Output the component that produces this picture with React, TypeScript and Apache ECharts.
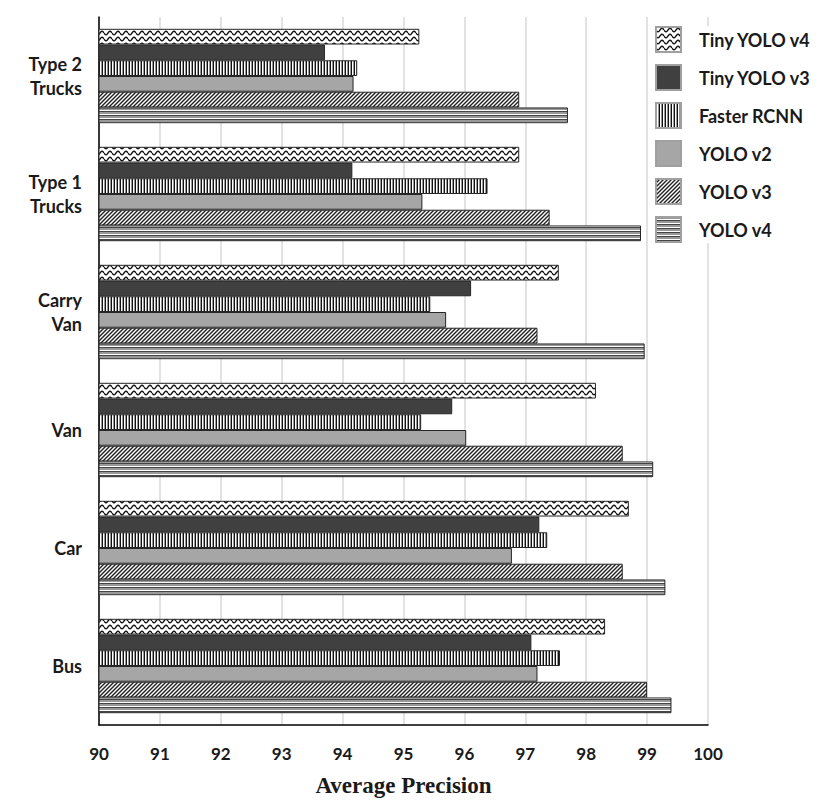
import React, { useEffect, useRef } from "react";
import * as echarts from "echarts";

const categories = ["Bus", "Car", "Van", "Carry\nVan", "Type 1\nTrucks", "Type 2\nTrucks"];
const seriesNames = ["Tiny YOLO v4", "Tiny YOLO v3", "Faster RCNN", "YOLO v2", "YOLO v3", "YOLO v4"];
const tinyYoloV4 = [98.31, 98.7, 98.16, 97.55, 96.9, 95.26];
const tinyYoloV3 = [97.1, 97.23, 95.8, 96.11, 94.16, 93.71];
const fasterRcnn = [97.57, 97.36, 95.29, 95.44, 96.38, 94.24];
const yoloV2 = [97.2, 96.78, 96.03, 95.7, 95.31, 94.18];
const yoloV3 = [99.0, 98.6, 98.6, 97.2, 97.4, 96.9];
const yoloV4 = [99.4, 99.3, 99.1, 98.96, 98.9, 97.7];
const xTicks = [90, 91, 92, 93, 94, 95, 96, 97, 98, 99, 100];

function makePattern(w: number, h: number, draw: (ctx: CanvasRenderingContext2D) => void) {
  const c = document.createElement("canvas");
  c.width = w;
  c.height = h;
  const ctx = c.getContext("2d") as CanvasRenderingContext2D;
  draw(ctx);
  return { image: c.toDataURL(), repeat: "repeat", imageWidth: w, imageHeight: h };
}

function buildFills() {
  const wave = makePattern(8, 6, (ctx) => {
    ctx.fillStyle = "#fff";
    ctx.fillRect(0, 0, 8, 6);
    ctx.strokeStyle = "#111";
    ctx.lineWidth = 1.4;
    ctx.beginPath();
    for (let i = 0; i <= 16; i++) {
      const x = i * 0.5;
      const y = 3 + 1.8 * Math.sin((2 * Math.PI * x) / 8);
      if (i === 0) ctx.moveTo(x, y);
      else ctx.lineTo(x, y);
    }
    ctx.stroke();
  });
  const vertical = makePattern(3, 1, (ctx) => {
    ctx.fillStyle = "#fff";
    ctx.fillRect(0, 0, 3, 1);
    ctx.fillStyle = "#111";
    ctx.fillRect(0, 0, 1, 1);
    ctx.fillStyle = "#999";
    ctx.fillRect(2, 0, 1, 1);
  });
  const diagonal = makePattern(4, 4, (ctx) => {
    ctx.fillStyle = "#fff";
    ctx.fillRect(0, 0, 4, 4);
    ctx.strokeStyle = "#222";
    ctx.lineWidth = 1.4;
    for (const off of [-4, 0, 4]) {
      ctx.beginPath();
      ctx.moveTo(off - 1, 5);
      ctx.lineTo(off + 5, -1);
      ctx.stroke();
    }
  });
  const horizontal = makePattern(1, 4, (ctx) => {
    const rows = ["#999", "#999", "#fff", "#444"];
    rows.forEach((col, i) => {
      ctx.fillStyle = col;
      ctx.fillRect(0, i, 1, 1);
    });
  });
  return [wave, "#404040", vertical, "#a6a6a6", diagonal, horizontal];
}

export default function App() {
  const ref = useRef<HTMLDivElement>(null);
  useEffect(() => {
    document.body.style.margin = "0";
    if (!ref.current) return;
    const chart = echarts.init(ref.current, null, { renderer: "svg" });
    const fills = buildFills();
    const values = [tinyYoloV4, tinyYoloV3, fasterRcnn, yoloV2, yoloV3, yoloV4];
    const font = "Lato, 'Open Sans', sans-serif";
    chart.setOption({
      animation: false,
      backgroundColor: "#fff",
      grid: { left: 99, right: 122, top: 17, bottom: 81, outerBoundsMode: "none" },
      legend: {
        orient: "vertical",
        left: 655,
        top: 26,
        data: seriesNames,
        icon: "rect",
        itemWidth: 25,
        itemHeight: 25,
        itemGap: 11,
        backgroundColor: "#fff",
        padding: [0, 4, 0, 0],
        itemStyle: { borderColor: "#a0a0a0", borderWidth: 2 },
        textStyle: {
          fontFamily: font,
          fontWeight: "bold",
          fontSize: 18,
          color: "#1a1a1a",
          padding: [0, 0, 0, 13],
        },
      },
      xAxis: {
        type: "value",
        min: xTicks[0],
        max: xTicks[xTicks.length - 1],
        interval: 1,
        axisLine: { show: true, lineStyle: { color: "#000", width: 1.5 } },
        axisTick: { show: false },
        splitLine: { show: true, lineStyle: { color: "#d9d9d9", width: 1.5 } },
        axisLabel: {
          margin: 20,
          fontFamily: font,
          fontWeight: "bold",
          fontSize: 17,
          color: "#1a1a1a",
        },
        name: "Average Precision",
        nameLocation: "middle",
        nameGap: 49,
        nameTextStyle: {
          fontFamily: "'Liberation Serif', 'Times New Roman', serif",
          fontWeight: "bold",
          fontSize: 23,
          color: "#1a1a1a",
        },
      },
      yAxis: {
        type: "category",
        data: categories,
        axisLine: { show: true, lineStyle: { color: "#000", width: 1.5 } },
        axisTick: { show: false },
        splitLine: { show: false },
        axisLabel: {
          margin: 17,
          fontFamily: font,
          fontWeight: "bold",
          fontSize: 18,
          lineHeight: 24,
          color: "#1a1a1a",
          align: "right",
        },
      },
      series: seriesNames.map((name, i) => ({
        name,
        type: "bar",
        data: values[i],
        barGap: "0%",
        barCategoryGap: "20%",
        itemStyle: {
          color: fills[i],
          borderColor: "#262626",
          borderWidth: 1,
        },
      })),
    });
    return () => chart.dispose();
  }, []);
  return <div ref={ref} style={{ width: 830, height: 806 }} />;
}
